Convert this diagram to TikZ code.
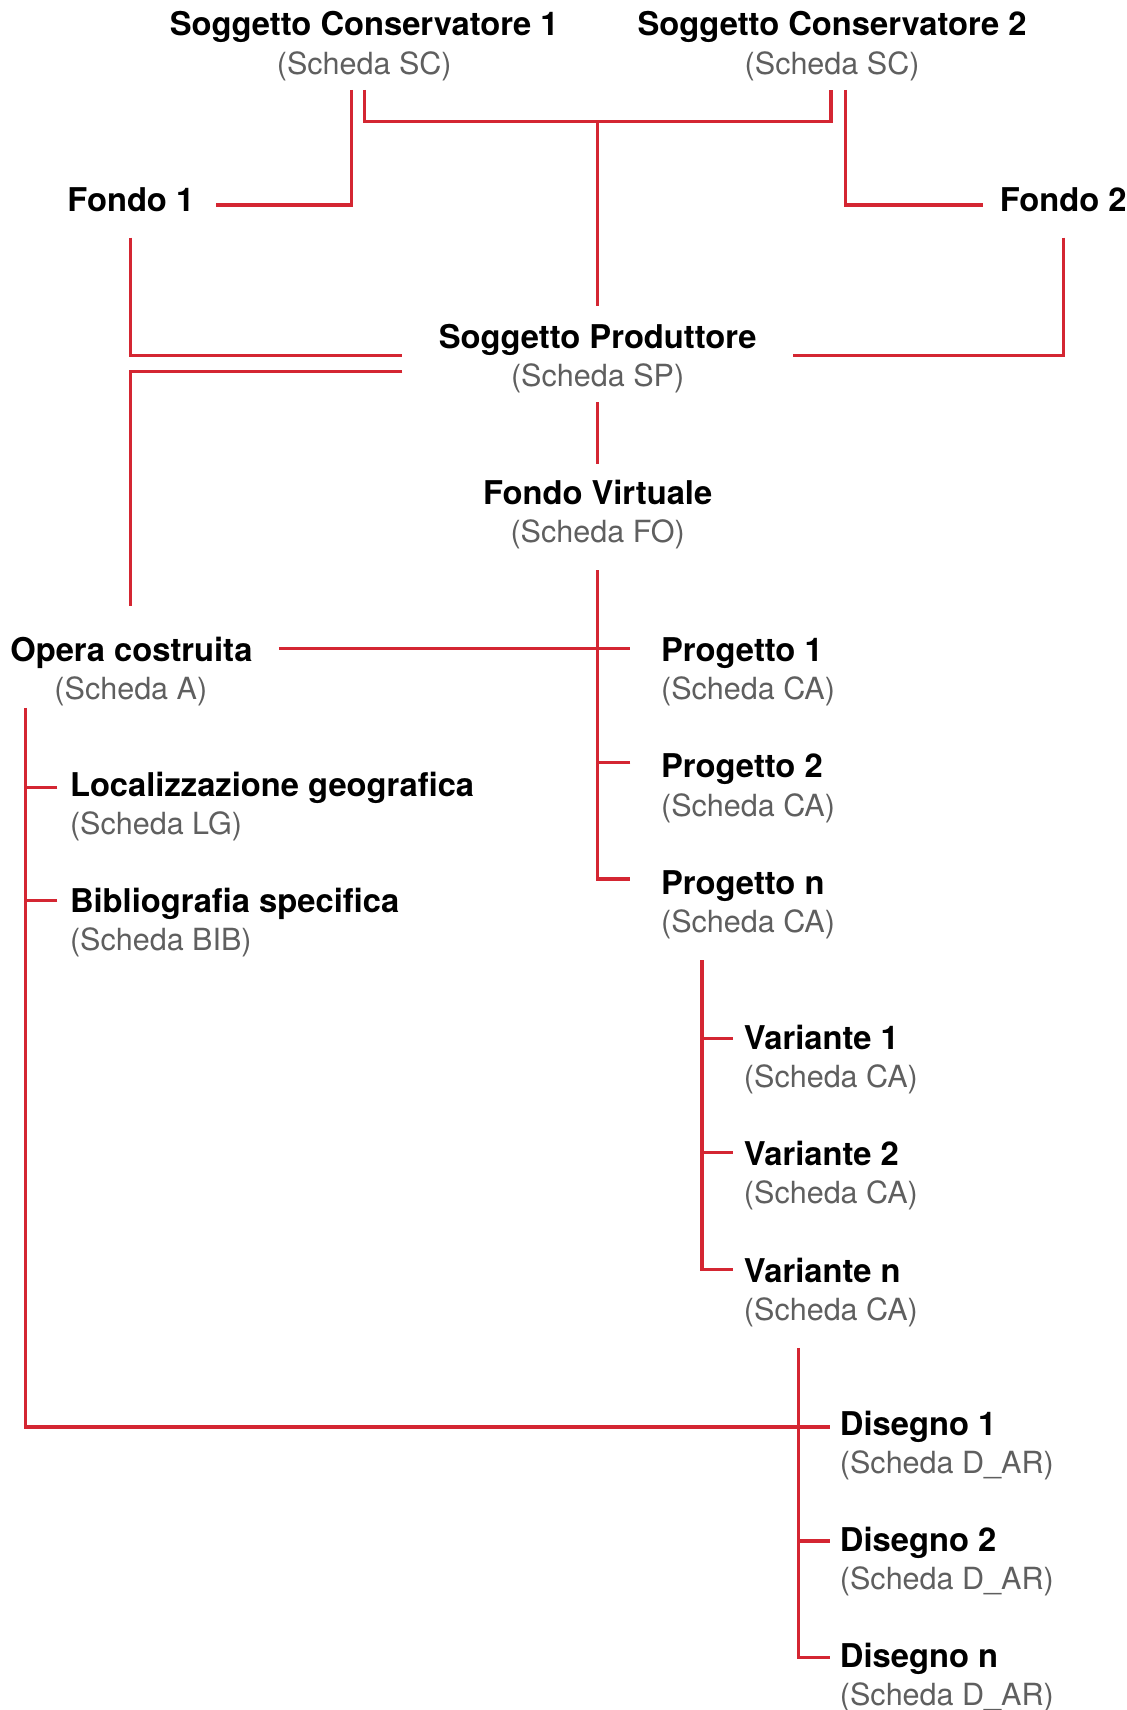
\documentclass[tikz,border=0pt]{standalone}
\usepackage{fontspec}
\setmainfont{TeX Gyre Heros}
\definecolor{lred}{RGB}{212,38,50}
\definecolor{lgray}{RGB}{95,95,95}
\tikzset{
  link/.style={draw=lred, line width=2.8pt},
  ttl/.style={inner sep=0pt, font=\fontsize{30}{30}\selectfont\bfseries},
  sub/.style={inner sep=0pt, text=lgray, font=\fontsize{28}{30}\selectfont},
}
\begin{document}
\begin{tikzpicture}[x=1pt,y=-1pt]
\useasboundingbox (0,0) rectangle (1033,1568);
% ---- text nodes
\node[ttl,anchor=base] (sc1) at (334,33) {Soggetto Conservatore 1};
\node[sub,anchor=base] (sc1s) at (334,68.5) {(Scheda SC)};
\node[ttl,anchor=base] (sc2) at (763,33) {Soggetto Conservatore 2};
\node[sub,anchor=base] (sc2s) at (763,68.5) {(Scheda SC)};
\node[ttl,anchor=base] (f1) at (120,194) {Fondo 1};
\node[ttl,anchor=base] (f2) at (975,194) {Fondo 2};
\node[ttl,anchor=base] (sp) at (548,319.3) {Soggetto Produttore};
\node[sub,anchor=base] (sps) at (548,354) {(Scheda SP)};
\node[ttl,anchor=base] (fv) at (548,462.3) {Fondo Virtuale};
\node[sub,anchor=base] (fvs) at (548,497.3) {(Scheda FO)};
\node[ttl,anchor=base] (oc) at (120.5,606.2) {Opera costruita};
\node[sub,anchor=base] (ocs) at (120,641.3) {(Scheda A)};
\node[ttl,anchor=base west] (p1) at (606,606.2) {Progetto 1};
\node[sub,anchor=base west] (p1s) at (606,641.3) {(Scheda CA)};
\node[ttl,anchor=base west] (p2) at (606,713.2) {Progetto 2};
\node[sub,anchor=base west] (p2s) at (606,748.3) {(Scheda CA)};
\node[ttl,anchor=base west] (pn) at (606,820.1) {Progetto n};
\node[sub,anchor=base west] (pns) at (606,855.2) {(Scheda CA)};
\node[ttl,anchor=base west] (lg) at (64,730) {Localizzazione geografica};
\node[sub,anchor=base west] (lgs) at (64,765.1) {(Scheda LG)};
\node[ttl,anchor=base west] (bib) at (64,836.6) {Bibliografia specifica};
\node[sub,anchor=base west] (bibs) at (64,871.7) {(Scheda BIB)};
\node[ttl,anchor=base west] (v1) at (682,962) {Variante 1};
\node[sub,anchor=base west] (v1s) at (682,997.1) {(Scheda CA)};
\node[ttl,anchor=base west] (v2) at (682,1068.6) {Variante 2};
\node[sub,anchor=base west] (v2s) at (682,1103.7) {(Scheda CA)};
\node[ttl,anchor=base west] (vn) at (682,1176) {Variante n};
\node[sub,anchor=base west] (vns) at (682,1211.1) {(Scheda CA)};
\node[ttl,anchor=base west] (d1) at (770,1316.4) {Disegno 1};
\node[sub,anchor=base west] (d1s) at (770,1351.5) {(Scheda D\_AR)};
\node[ttl,anchor=base west] (d2) at (770,1422.6) {Disegno 2};
\node[sub,anchor=base west] (d2s) at (770,1457.7) {(Scheda D\_AR)};
\node[ttl,anchor=base west] (dn) at (770,1529) {Disegno n};
\node[sub,anchor=base west] (dns) at (770,1564.1) {(Scheda D\_AR)};
% ---- connector points
\coordinate (sc1a) at (322,82.5);
\coordinate (sc1b) at (334,82.5);
\coordinate (sc2a) at (762,82.5);
\coordinate (sc2b) at (775,82.5);
\coordinate (barm) at (548,111.5);
\coordinate (f1r) at (197.7,188);
\coordinate (f2l) at (901.5,188);
\coordinate (spt) at (548,281);
\coordinate (f1b) at (120,217.8);
\coordinate (f2b) at (975.4,217.8);
\coordinate (spl1) at (369,326);
\coordinate (spl2) at (369,340.7);
\coordinate (spr) at (727,326);
\coordinate (oct) at (120,556);
\coordinate (spb) at (548,368.7);
\coordinate (fvt) at (548,425.5);
\coordinate (fvb) at (548,522.7);
\coordinate (p1l) at (578,595);
\coordinate (p2l) at (578,699);
\coordinate (pnl) at (578,806);
\coordinate (ocr) at (255.7,595);
\coordinate (ocb) at (23.7,649);
\coordinate (lgl) at (52.7,722);
\coordinate (bibl) at (52.7,826);
\coordinate (pnb) at (643.7,880.5);
\coordinate (v1l) at (672,952.4);
\coordinate (v2l) at (672,1057);
\coordinate (vnl) at (672,1163.7);
\coordinate (vnb) at (732,1236);
\coordinate (d1l) at (761,1308.5);
\coordinate (d2l) at (761,1413);
\coordinate (dnl) at (761,1520);
% ---- connectors
\draw[link] (sc1a) |- (f1r);
\draw[link] (sc1b) |- (barm) -| (sc2a);
\draw[link] (barm) -- (spt);
\draw[link] (sc2b) |- (f2l);
\draw[link] (f1b) |- (spl1);
\draw[link] (spl2) -| (oct);
\draw[link] (f2b) |- (spr);
\draw[link] (spb) -- (fvt);
\draw[link] (fvb) |- (pnl);
\draw[link] (ocr) -- (p1l);
\draw[link] (p2l) -- (p2l -| fvb);
\draw[link] (ocb) |- (d1l);
\draw[link] (lgl) -- (lgl -| ocb);
\draw[link] (bibl) -- (bibl -| ocb);
\draw[link] (pnb) |- (vnl);
\draw[link] (v1l) -- (v1l -| pnb);
\draw[link] (v2l) -- (v2l -| pnb);
\draw[link] (vnb) |- (dnl);
\draw[link] (d2l) -- (d2l -| vnb);
\end{tikzpicture}
\end{document}
